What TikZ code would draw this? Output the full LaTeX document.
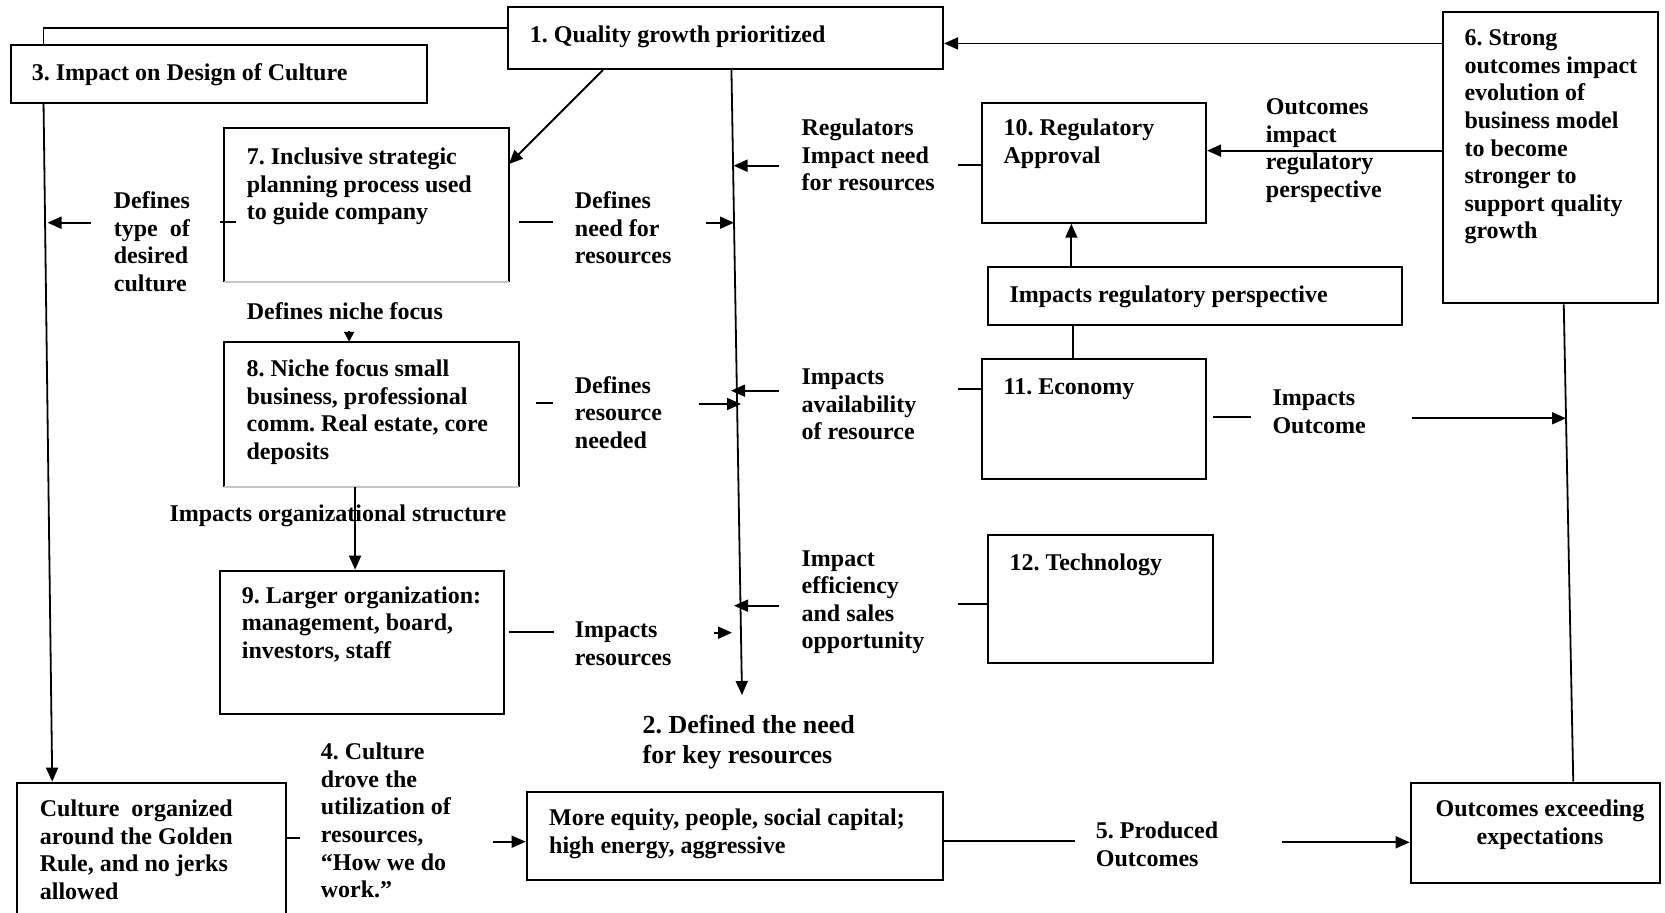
\documentclass[tikz,border=0pt]{standalone}
\usepackage{fontspec}
\setmainfont{Liberation Serif}
\usetikzlibrary{arrows.meta,fit}
\frenchspacing
\begin{document}
\begin{tikzpicture}[x=0.5pt,y=-0.5pt,
  line width=0.9pt,
  box/.style={draw, line width=1.05pt, inner sep=0pt},
  openbox/.style={inner sep=0pt},
  txt/.style={anchor=north west, inner sep=0pt, align=left, yshift=8.06pt,
    font=\fontsize{12}{13.8}\selectfont\bfseries, execute at begin node=\strut},
  bigtxt/.style={txt, yshift=0.84pt, font=\fontsize{13}{15}\selectfont\bfseries},
  arr/.style={-{Triangle[length=7pt,width=6pt]}},
  tinytip/.style={-{Triangle[length=5pt,width=5pt]}},
]
\useasboundingbox (0,0) rectangle (1665,913);
\fill[white] (0,0) rectangle (1665,913);
\clip (0,0) rectangle (1665,913);

% ---------- boxes ----------
\node[box, fit={(508,7.3) (943,69)}] (b1) {};
\node[box, fit={(11,45) (427,103)}] (b3) {};
\node[openbox, fit={(225,129) (508,281)}] (b7) {};
\node[openbox, fit={(225,342.7) (518,485.7)}] (b8) {};
\node[box, fit={(220.4,570.7) (503.6,714.3)}] (b9) {};
\node[box, fit={(982,102.7) (1206,222.7)}] (b10) {};
\node[box, fit={(988,267.3) (1402,325)}] (breg) {};
\node[box, fit={(982,359.3) (1206,479)}] (b11) {};
\node[box, fit={(988.3,535) (1212.7,662.7)}] (b12) {};
\node[box, fit={(1443,12.3) (1658.3,303.3)}] (b6) {};
\node[box, fit={(17.3,782.7) (285.7,940)}] (bc) {};
\node[box, fit={(526.7,792.3) (943.3,880)}] (be) {};
\node[box, fit={(1410.7,782.7) (1660,883.3)}] (bo) {};

% boxes 7 and 8: faint lower edge
\foreach \b in {b7,b8}{
  \draw[line width=1.05pt] (\b.south west) -- (\b.north west) -- (\b.north east) -- (\b.south east);
  \draw[line width=1pt, black!22] (\b.south west) -- (\b.south east);
}

% ---------- box texts ----------
\node[txt] (t1) at (529,38.2) {1. Quality growth prioritized};
\node[txt] (t3) at (31,76) {3. Impact on Design of Culture};
\node[txt] (t7) at (246,163) {7. Inclusive strategic\\planning process used\\to guide company};
\node[txt] (t8) at (245.7,375) {8. Niche focus small\\business, professional\\comm. Real estate, core\\deposits};
\node[txt] (t9) at (241,601.7) {9. Larger organization:\\management, board,\\investors, staff};
\node[txt] (t10) at (1002.7,134) {10. Regulatory\\Approval};
\node[txt] (treg) at (1008.6,298.7) {Impacts regulatory perspective};
\node[txt] (t11) at (1002.7,390.5) {11. Economy};
\node[txt] (t12) at (1008.6,566) {12. Technology};
\node[txt] (t6) at (1463.6,45) {6. Strong\\outcomes impact\\evolution of\\business model\\to become\\stronger to\\support quality\\growth};
\node[txt] (tc) at (39,815) {Culture\hspace{3pt} organized\\around the Golden\\Rule, and no jerks\\allowed};
\node[txt] (te) at (548.3,824) {More equity, people, social capital;\\high energy, aggressive};
\node[txt, anchor=north, align=center] (to) at (1540,815) {Outcomes exceeding\\expectations};

% ---------- connector labels ----------
\node[txt] (l7a) at (113,207) {Defines\\type\hspace{3pt} of\\desired\\culture};
\node[txt] (l7b) at (574,207) {Defines\\need for\\resources};
\node[txt] (l10) at (800.7,134) {Regulators\\Impact need\\for resources};
\node[txt] (l6) at (1265,114) {Outcomes\\impact\\regulatory\\perspective};
\node[txt] (l8a) at (246,315) {Defines niche focus};
\node[txt] (l8b) at (574,391.7) {Defines\\resource\\needed};
\node[txt] (l11a) at (800.7,384) {Impacts\\availability\\of resource};
\node[txt] (l11b) at (1271.6,405) {Impacts\\Outcome};
\node[txt] (l89) at (168.6,517) {Impacts organizational structure};
\node[txt] (l12) at (800.7,565.7) {Impact\\efficiency\\and sales\\opportunity};
\node[txt] (l9) at (574,637.3) {Impacts\\resources};
\node[bigtxt] (l2) at (641.7,731.7) {2. Defined the need\\for key resources};
\node[txt] (l4) at (320,758.3) {4. Culture\\drove the\\utilization of\\resources,\\“How we do\\work.”};
\node[txt] (l5) at (1095,837) {5. Produced\\Outcomes};

% ---------- connectors ----------
% 1 -> 3 and 3 -> culture
\draw ([yshift=-11pt]b1.north west) -| ([xshift=16.8pt]b3.north west);
\draw[arr] ([xshift=16.8pt]b3.south west) -- ([xshift=18pt]bc.north west);

% 1 -> 7
\draw[arr] ([xshift=48pt]b1.south west) -- ([yshift=-18pt]b7.north east);

% 1 -> 2 (resource spine)
\coordinate (c2) at (742,695);
\draw[arr] ([xshift=112.25pt]b1.south west) -- (c2);

% 6 -> 1, 6 -> 10, 6 -> outcomes
\coordinate (c61) at ([yshift=-16.1pt]b6.north west);
\draw[arr] (c61) -- (c61 -| b1.east);
\coordinate (c610) at ([yshift=-69.7pt]b6.north west);
\draw[arr] (c610) -- (c610 -| b10.east);
\draw ([xshift=60.9pt]b6.south west) -- ([xshift=81.8pt]bo.north west);

% 10 -> spine
\coordinate (c10) at ([yshift=-31.5pt]b10.north west);
\draw (c10) -- ++(-23.4,0);
\coordinate (a10s) at (779,165.7);
\coordinate (a10e) at (733.5,165.7);
\draw[arr] (a10s) -- (a10e);

% regulatory perspective -> 10, 11 -> regulatory perspective
\coordinate (cr) at ([xshift=42.2pt]breg.north west);
\draw[arr] (cr) -- (cr |- b10.south);
\coordinate (c11t) at ([xshift=45.9pt]b11.north west);
\draw (c11t) -- (c11t |- breg.south);

% 11 -> spine
\coordinate (c11l) at ([yshift=-15.35pt]b11.north west);
\draw (c11l) -- ++(-23.4,0);
\coordinate (a11s) at (779,390.7);
\coordinate (a11e) at (731,390.7);
\draw[arr] (a11s) -- (a11e);

% 11 -> outcome line
\coordinate (c11r) at ([yshift=-29.5pt]b11.north east);
\draw ([xshift=3pt]c11r) -- ([xshift=22pt]c11r);
\coordinate (a11o) at (1412,418.3);
\coordinate (a11p) at (1566,418.3);
\draw[arr] (a11o) -- (a11p);

% 12 -> spine
\coordinate (c12l) at ([yshift=-35pt]b12.north west);
\draw (c12l) -- ++(-29.7,0);
\coordinate (a12s) at (779,605.7);
\coordinate (a12e) at (734,605.7);
\draw[arr] (a12s) -- (a12e);

% 7 -> spine, 7 -> culture line
\coordinate (c7r) at ([yshift=-46.85pt]b7.north east);
\draw ([xshift=5pt]c7r) -- ([xshift=22pt]c7r);
\coordinate (a7s) at (705.7,222.7);
\coordinate (a7e) at (734,222.7);
\draw[arr] (a7s) -- (a7e);
\coordinate (c7l) at ([yshift=-46.85pt]b7.north west);
\draw ([xshift=-2pt]c7l) -- ([xshift=6pt]c7l);
\coordinate (a7l) at (91,222.7);
\coordinate (a7m) at (47.5,222.7);
\draw[arr] (a7l) -- (a7m);

% 7 -> 8 (niche focus)
\coordinate (c8t) at ([xshift=62.5pt]b8.north west);
\draw[tinytip] ([yshift=5.5pt]c8t) -- (c8t);

% 8 -> 9
\coordinate (c89) at ([xshift=65.5pt]b8.south west);
\draw[arr] (c89) -- (c89 |- b9.north);

% 8 -> spine
\coordinate (c8r) at ([yshift=-30.65pt]b8.north east);
\draw ([xshift=8.5pt]c8r) -- ([xshift=17.25pt]c8r);
\coordinate (a8s) at (698.6,404);
\coordinate (a8e) at (741,404);
\draw[arr] (a8s) -- (a8e);

% 9 -> spine
\coordinate (c9r) at ([yshift=-31pt]b9.north east);
\draw ([xshift=2.2pt]c9r) -- ([xshift=24.45pt]c9r);
\coordinate (a9s) at (714,632.7);
\coordinate (a9e) at (732,632.7);
\draw[arr] (a9s) -- (a9e);

% culture -> resources
\coordinate (ccr) at ([yshift=-28.3pt]bc.north east);
\draw (ccr) -- ([xshift=6.8pt]ccr);
\coordinate (ca4) at (493.3,841.7);
\draw[arr] (ca4) -- (ca4 -| be.west);

% resources -> outcomes
\coordinate (cer) at ([yshift=-25pt]be.north east);
\draw (cer) -- ([xshift=65.5pt]cer);
\coordinate (ca5) at (1281.7,842.3);
\draw[arr] (ca5) -- (ca5 -| bo.west);
\end{tikzpicture}
\end{document}
